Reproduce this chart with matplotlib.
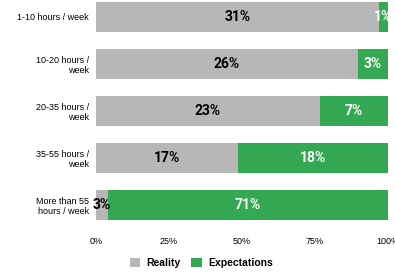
import numpy as np
import matplotlib.pyplot as plt

categories = ['1-10 hours / week', '10-20 hours /\nweek', '20-35 hours /\nweek',
              '35-55 hours /\nweek', 'More than 55\nhours / week']
reality = [31, 26, 23, 17, 3]
expectations = [1, 3, 7, 18, 71]

gray = '#b7b7b7'
green = '#34a853'

r = np.array(reality, dtype=float)
e = np.array(expectations, dtype=float)
tot = r + e
r_share = r / tot * 100
e_share = e / tot * 100

fig = plt.figure(figsize=(3.95, 2.75), dpi=100)
ax = fig.add_axes([0.243, 0.2, 0.739, 0.793])
y = np.arange(len(categories))
ax.barh(y, r_share, height=0.64, color=gray, label='Reality')
ax.barh(y, e_share, left=r_share, height=0.64, color=green, label='Expectations')

for i in range(len(categories)):
    ax.text(r_share[i] / 2, y[i], f'{reality[i]}%', ha='center', va='center',
            fontsize=10, fontweight='bold', color='black', family='Roboto')
    ax.text(min(r_share[i] + e_share[i] / 2, 99.6), y[i], f'{expectations[i]}%', ha='center', va='center',
            fontsize=10, fontweight='bold', color='white', family='Roboto')

ax.set_xlim(0, 100)
ax.set_ylim(4.32, -0.32)
ax.set_yticks(y)
ax.set_yticklabels(categories, fontsize=6.5, family='Liberation Sans')
ax.set_xticks([0, 25, 50, 75, 100])
ax.set_xticklabels(['0%', '25%', '50%', '75%', '100%'], fontsize=6.5, family='Liberation Sans')
ax.tick_params(length=0, pad=5)
ax.tick_params(axis='x', pad=12)
for s in ax.spines.values():
    s.set_visible(False)

fig.legend(loc='lower center', bbox_to_anchor=(0.51, -0.01), ncol=2, frameon=False,
           prop={'family': 'Liberation Sans', 'weight': 'bold', 'size': 7.5},
           handlelength=1, handleheight=1, handletextpad=0.6, columnspacing=1.0)
fig.savefig('out.png', dpi=100)
